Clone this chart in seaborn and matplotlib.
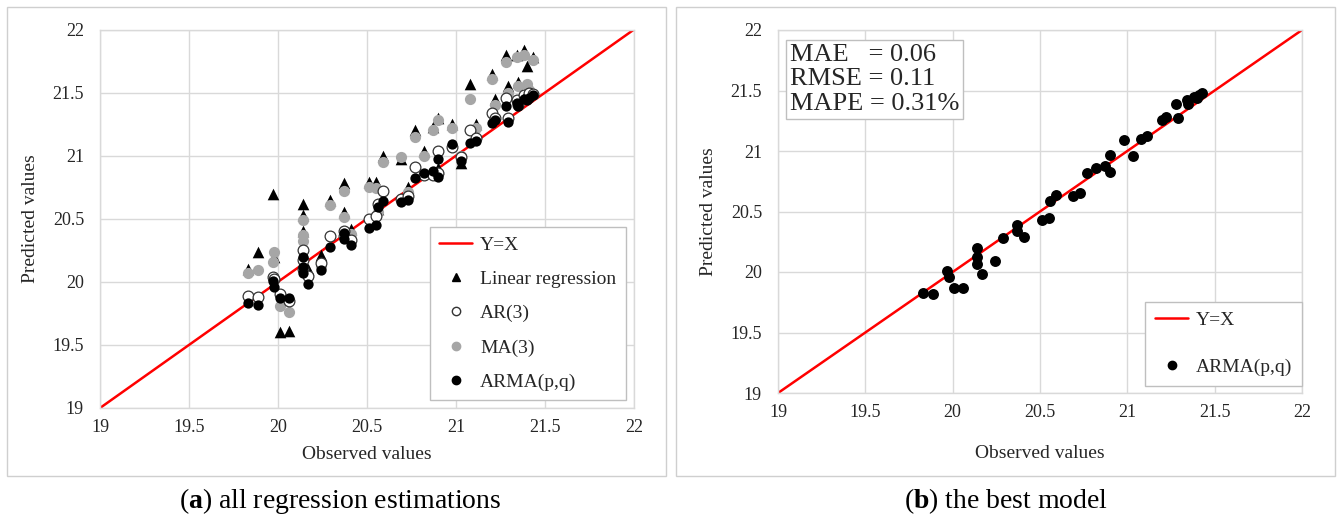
import numpy as np
import pandas as pd
import matplotlib
matplotlib.use("Agg")
import matplotlib.pyplot as plt
from matplotlib.lines import Line2D
from matplotlib.patches import Rectangle
import seaborn as sns

# ---------------- data ----------------
observed = [19.83, 19.89, 19.97, 19.98, 20.01, 20.06, 20.14, 20.14, 20.14, 20.17,
            20.24, 20.29, 20.37, 20.37, 20.41, 20.51, 20.55, 20.56, 20.59, 20.69,
            20.73, 20.77, 20.82, 20.87, 20.90, 20.90, 20.98, 21.03, 21.08, 21.11,
            21.20, 21.22, 21.28, 21.29, 21.34, 21.35, 21.38, 21.40, 21.41, 21.43]
arma = [19.83, 19.82, 20.01, 19.96, 19.87, 19.87, 20.20, 20.12, 20.07, 19.98,
        20.09, 20.28, 20.39, 20.34, 20.29, 20.43, 20.45, 20.59, 20.64, 20.63,
        20.65, 20.82, 20.86, 20.88, 20.97, 20.83, 21.09, 20.96, 21.10, 21.12,
        21.26, 21.28, 21.39, 21.27, 21.42, 21.39, 21.45, 21.44, 21.46, 21.48]
ma3 = [20.07, 20.09, 20.16, 20.24, 19.81, 19.76, 20.49, 20.37, 20.32, 20.05,
       20.12, 20.61, 20.72, 20.51, 20.38, 20.75, 20.74, 20.55, 20.95, 20.99,
       20.71, 21.15, 21.00, 21.20, 21.28, 20.86, 21.22, 21.00, 21.45, 21.22,
       21.61, 21.40, 21.74, 21.50, 21.78, 21.55, 21.80, 21.57, 21.52, 21.76]
ar3 = [19.89, 19.88, 20.04, 20.02, 19.90, 19.85, 20.25, 20.17, 20.10, 20.05,
       20.15, 20.36, 20.40, 20.36, 20.33, 20.50, 20.52, 20.62, 20.72, 20.66,
       20.68, 20.91, 20.85, 20.85, 21.04, 20.86, 21.07, 20.99, 21.20, 21.14,
       21.34, 21.30, 21.46, 21.30, 21.44, 21.40, 21.48, 21.46, 21.50, 21.49]
linreg = [20.10, 20.24, 20.70, 20.20, 19.60, 19.61, 20.62, 20.53, 20.40, 20.10,
          20.21, 20.65, 20.78, 20.55, 20.42, 20.79, 20.79, 20.58, 21.00, 20.97,
          20.75, 21.20, 21.04, 21.23, 21.30, 20.90, 21.25, 20.94, 21.57, 21.25,
          21.65, 21.45, 21.80, 21.55, 21.80, 21.58, 21.84, 21.71, 21.55, 21.78]
diag = [19, 22]
ticks = [19, 19.5, 20, 20.5, 21, 21.5, 22]
tick_labels = ["19", "19.5", "20", "20.5", "21", "21.5", "22"]
stats_text = "MAE   = 0.06\nRMSE = 0.11\nMAPE = 0.31%"

df = pd.DataFrame({"obs": observed, "lr": linreg, "ar": ar3, "ma": ma3, "arma": arma})

# ---------------- style ----------------
sns.set_theme(style="white")
plt.rcParams["font.family"] = ["Liberation Serif", "DejaVu Serif"]
plt.rcParams["mathtext.fontset"] = "custom"
plt.rcParams["mathtext.rm"] = "Liberation Serif"
plt.rcParams["mathtext.bf"] = "Liberation Serif:bold"

TXT = "#262626"
GRID = "#d9d9d9"
RED = "#ff0000"
GRAY = "#a6a6a6"

fig = plt.figure(figsize=(13.4, 5.17), dpi=100)

# panel frames
for (x0, x1) in [(7, 666), (676, 1335)]:
    fig.patches.append(Rectangle((x0 / 1340, 1 - 476 / 517), (x1 - x0) / 1340, (476 - 7) / 517,
                                 transform=fig.transFigure, fill=False,
                                 edgecolor="#cfcfcf", linewidth=1.0))

axA = fig.add_axes([100 / 1340, 1 - 408 / 517, 534 / 1340, 378.5 / 517])
axB = fig.add_axes([778 / 1340, 1 - 393 / 517, 524 / 1340, 363 / 517])

def style_axes(ax, xlabelpad):
    ax.set_xlim(19, 22)
    ax.set_ylim(19, 22)
    ax.set_xticks(ticks)
    ax.set_yticks(ticks)
    ax.set_xticklabels(tick_labels)
    ax.set_yticklabels(tick_labels)
    ax.grid(True, color=GRID, linewidth=1.0)
    ax.set_axisbelow(True)
    for s in ax.spines.values():
        s.set_color(GRID)
        s.set_linewidth(1.0)
    ax.tick_params(axis="both", length=0, labelsize=13, colors=TXT)
    ax.tick_params(axis="x", pad=8)
    ax.tick_params(axis="y", pad=11.5)
    ax.set_xlabel("Observed values", fontsize=14, color=TXT, labelpad=xlabelpad)
    ax.set_ylabel("Predicted values", fontsize=14, color=TXT, labelpad=10)

# ---------------- panel (a) ----------------
sns.lineplot(x=diag, y=diag, ax=axA, color=RED, linewidth=1.8, zorder=2)
sns.scatterplot(data=df, x="obs", y="lr", ax=axA, marker="^", s=70, color="black",
                edgecolor="black", linewidth=0, zorder=3)
sns.scatterplot(data=df, x="obs", y="ma", ax=axA, marker="o", s=65, color=GRAY,
                edgecolor=GRAY, linewidth=0, zorder=4)
sns.scatterplot(data=df, x="obs", y="ar", ax=axA, marker="o", s=60, color="white",
                edgecolor="#333333", linewidth=0.9, zorder=5)
sns.scatterplot(data=df, x="obs", y="arma", ax=axA, marker="o", s=55, color="black",
                edgecolor="black", linewidth=0, zorder=6)
style_axes(axA, 7)

handlesA = [
    Line2D([], [], color=RED, linewidth=1.8),
    Line2D([], [], marker="^", linestyle="none", color="black", markersize=6),
    Line2D([], [], marker="o", linestyle="none", markerfacecolor="white",
           markeredgecolor="#333333", markersize=6),
    Line2D([], [], marker="o", linestyle="none", color=GRAY, markersize=6),
    Line2D([], [], marker="o", linestyle="none", color="black", markersize=6),
]
legA = axA.legend(handlesA, ["Y=X", "Linear regression", "AR(3)", "MA(3)", "ARMA(p,q)"],
                  loc="lower right", bbox_to_anchor=(0.985, 0.02), fontsize=14,
                  frameon=True, fancybox=False, edgecolor="#bfbfbf", framealpha=1,
                  borderpad=0.5, labelspacing=0.85, handlelength=1.7, handletextpad=0.4,
                  borderaxespad=0)
legA.get_frame().set_linewidth(1.0)
for t in legA.get_texts():
    t.set_color(TXT)
legA.set_zorder(10)

# ---------------- panel (b) ----------------
sns.lineplot(x=diag, y=diag, ax=axB, color=RED, linewidth=1.8, zorder=2)
sns.scatterplot(data=df, x="obs", y="arma", ax=axB, marker="o", s=62, color="black",
                edgecolor="black", linewidth=0, zorder=6)
style_axes(axB, 17)

handlesB = [
    Line2D([], [], color=RED, linewidth=1.8),
    Line2D([], [], marker="o", linestyle="none", color="black", markersize=6),
]
legB = axB.legend(handlesB, ["Y=X", "ARMA(p,q)"], loc="lower right",
                  bbox_to_anchor=(1.0, 0.02), fontsize=14,
                  frameon=True, fancybox=False, edgecolor="#bfbfbf", framealpha=1,
                  borderpad=0.5, labelspacing=1.5, handlelength=1.7, handletextpad=0.4,
                  borderaxespad=0)
legB.get_frame().set_linewidth(1.0)
for t in legB.get_texts():
    t.set_color(TXT)
legB.set_zorder(10)

axB.text(0.022, 0.962, stats_text, transform=axB.transAxes, ha="left", va="top",
         fontsize=19, color=TXT, linespacing=1.15, zorder=10,
         bbox=dict(boxstyle="square,pad=0.15", facecolor="white", edgecolor="#bfbfbf",
                   linewidth=1.0))

# ---------------- captions ----------------
fig.text(340 / 1340, 1 - 501 / 517, r"($\mathbf{a}$) all regression estimations",
         ha="center", va="center", fontsize=20, color="black")
fig.text(1006 / 1340, 1 - 501 / 517, r"($\mathbf{b}$) the best model",
         ha="center", va="center", fontsize=20, color="black")

fig.savefig("out.png", dpi=100, facecolor="white")
